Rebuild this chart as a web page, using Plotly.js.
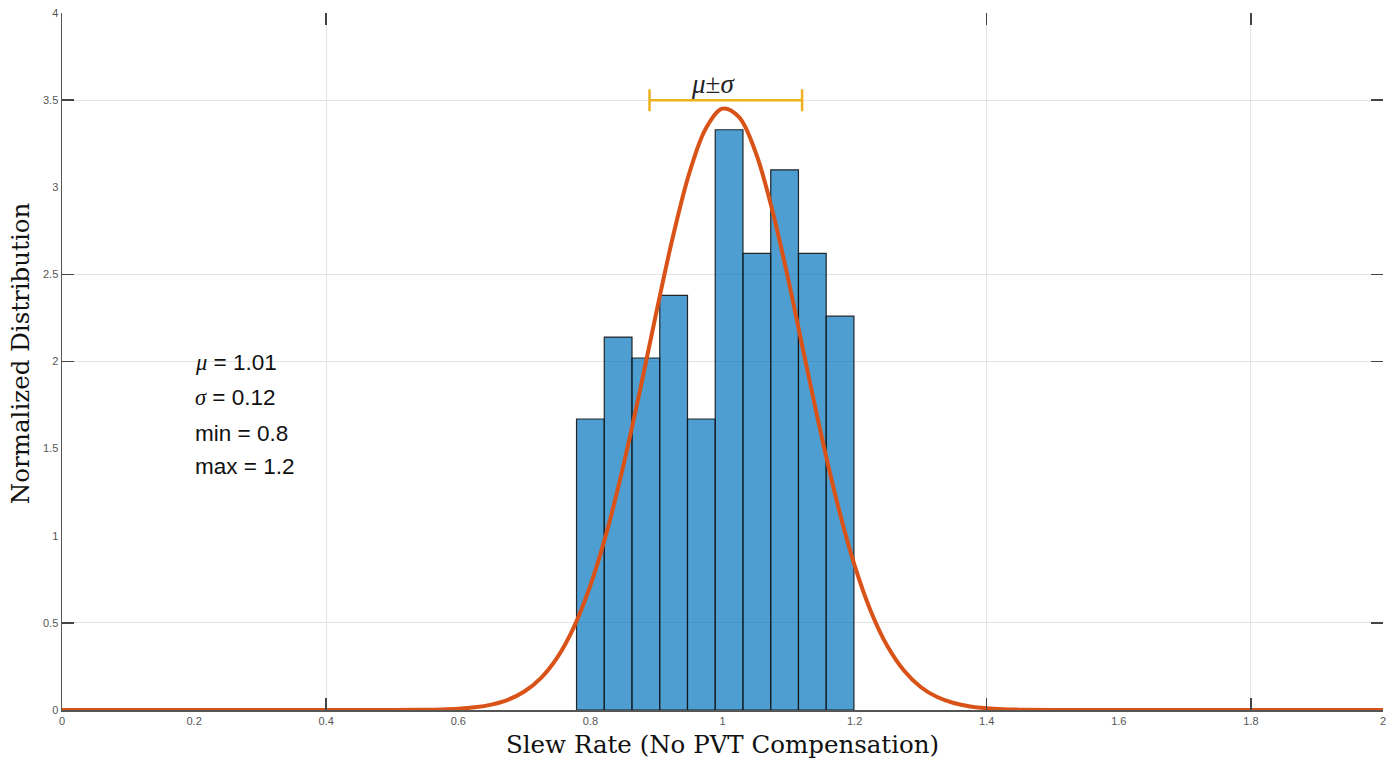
<!DOCTYPE html>
<html>
<head>
<meta charset="utf-8">
<script src="https://cdn.plot.ly/plotly-3.0.1.min.js"></script>
<style>html,body{margin:0;padding:0;background:#fff;}#chart{width:1397px;height:759px;}</style>
</head>
<body>
<div id="chart"></div>
<script>
// Histogram (normalized distribution)
const binStart = 0.779;
const binWidth = 0.042;
const binHeights = [1.67, 2.14, 2.02, 2.38, 1.67, 3.33, 2.62, 3.10, 2.62, 2.26];

// Fitted normal curve
const curveX = [0, 0.5, 0.55, 0.575, 0.6, 0.625, 0.65, 0.675, 0.7, 0.725, 0.75, 0.775, 0.8, 0.825, 0.85, 0.875, 0.9, 0.925, 0.95, 0.975, 1.0, 1.025, 1.05, 1.075, 1.1, 1.125, 1.15, 1.175, 1.2, 1.225, 1.25, 1.275, 1.3, 1.325, 1.35, 1.375, 1.4, 1.425, 1.45, 1.5, 2];
const curveY = [0, 0.0003, 0.0015, 0.0034, 0.0074, 0.0154, 0.031, 0.0583, 0.106, 0.183, 0.302, 0.476, 0.715, 1.025, 1.404, 1.833, 2.285, 2.717, 3.084, 3.339, 3.451, 3.403, 3.202, 2.874, 2.463, 2.013, 1.571, 1.169, 0.830, 0.563, 0.364, 0.225, 0.132, 0.0743, 0.040, 0.0204, 0.010, 0.0046, 0.002, 0.0003, 0];

// mu +/- sigma
const mu = 1.005;
const sigma = 0.1155;
const sigmaBarY = 3.5;

// Stats text
const statsLines = [
  '<span style="font-family:Liberation Serif;font-style:italic">μ</span> = 1.01',
  '<span style="font-family:Liberation Serif;font-style:italic">σ</span> = 0.12',
  'min = 0.8',
  'max = 1.2'
];
const statsY = [1.997, 1.791, 1.584, 1.395];

// Tick labels
const xTickVals = [0, 0.2, 0.4, 0.6, 0.8, 1, 1.2, 1.4, 1.6, 1.8, 2];
const xTickText = ['0', '0.2', '0.4', '0.6', '0.8', '1', '1.2', '1.4', '1.6', '1.8', '2'];
const yTickVals = [0, 0.5, 1, 1.5, 2, 2.5, 3, 3.5, 4];
const yTickText = ['0', '0.5', '1', '1.5', '2', '2.5', '3', '3.5', '4'];
// Only these positions carry tick marks and grid lines in the picture
const xGridVals = [0.4, 1.4, 1.8];
const yGridVals = [0.5, 2, 2.5, 3.5];

const binCenters = binHeights.map((h, i) => binStart + binWidth * (i + 0.5));

const traces = [
  {
    type: 'bar', x: binCenters, y: binHeights, width: binWidth,
    marker: {color: 'rgba(0,114,189,0.69)', line: {color: 'rgba(20,20,20,0.9)', width: 1.2}},
    hoverinfo: 'x+y', showlegend: false
  },
  {
    type: 'scatter', mode: 'lines', x: curveX, y: curveY,
    line: {color: '#D95319', width: 4, shape: 'spline', smoothing: 1},
    showlegend: false
  },
  {
    type: 'scatter', mode: 'markers', x: [mu], y: [sigmaBarY],
    marker: {size: 1, color: 'rgba(0,0,0,0)'},
    error_x: {type: 'data', array: [sigma], color: '#EDB120', thickness: 2.5, width: 11},
    showlegend: false
  },
  {
    type: 'scatter', mode: 'markers', x: [0], y: [0], xaxis: 'x2', yaxis: 'y2',
    marker: {size: 1, color: 'rgba(0,0,0,0)'}, hoverinfo: 'skip', showlegend: false
  }
];

const tickFont = {family: 'Liberation Sans, Arial, sans-serif', size: 11, color: '#555'};

const layout = {
  width: 1397, height: 759,
  margin: {l: 62, r: 14, t: 13, b: 49},
  paper_bgcolor: '#fff', plot_bgcolor: '#fff',
  bargap: 0,
  xaxis: {
    range: [0, 2], tickvals: xGridVals, showticklabels: false,
    showgrid: true, gridcolor: '#e3e3e3', gridwidth: 1,
    ticks: 'inside', ticklen: 12, tickwidth: 1.5, tickcolor: '#444', mirror: 'ticks',
    showline: false, zeroline: false, fixedrange: true
  },
  yaxis: {
    range: [0, 4], tickvals: yGridVals, showticklabels: false,
    showgrid: true, gridcolor: '#e3e3e3', gridwidth: 1,
    ticks: 'inside', ticklen: 12, tickwidth: 1.5, tickcolor: '#444', mirror: 'ticks',
    showline: false, zeroline: false, fixedrange: true
  },
  xaxis2: {
    overlaying: 'x', side: 'bottom', range: [0, 2],
    tickvals: xTickVals, ticktext: xTickText, tickfont: tickFont,
    showgrid: false, zeroline: false, showline: true, linecolor: '#555', linewidth: 1.5,
    ticks: '', fixedrange: true
  },
  yaxis2: {
    overlaying: 'y', side: 'left', range: [0, 4],
    tickvals: yTickVals, ticktext: yTickText, tickfont: tickFont,
    showgrid: false, zeroline: false, showline: true, linecolor: '#555', linewidth: 1.5,
    ticks: '', fixedrange: true
  },
  annotations: [
    {
      text: '<i>μ</i>±<i>σ</i>', x: 0.986, y: 3.59, xref: 'x', yref: 'y',
      showarrow: false, xanchor: 'center', yanchor: 'middle',
      font: {family: 'Liberation Serif, serif', size: 27, color: '#222'}
    },
    {
      text: 'Slew Rate (No PVT Compensation)', x: 0.5, y: -0.049, xref: 'paper', yref: 'paper',
      showarrow: false, xanchor: 'center', yanchor: 'middle',
      font: {family: 'DejaVu Serif, serif', size: 24.5, color: '#111'}
    },
    {
      text: 'Normalized Distribution', x: -0.0318, y: 0.512, xref: 'paper', yref: 'paper',
      showarrow: false, xanchor: 'center', yanchor: 'middle', textangle: -90,
      font: {family: 'DejaVu Serif, serif', size: 24.5, color: '#111'}
    }
  ].concat(statsLines.map((t, i) => ({
    text: t, x: 0.198, y: statsY[i], xref: 'x', yref: 'y',
    showarrow: false, xanchor: 'left', yanchor: 'middle',
    font: {family: 'Liberation Sans, Arial, sans-serif', size: 22.5, color: '#111'}
  })))
};

Plotly.newPlot('chart', traces, layout, {displayModeBar: false, staticPlot: true});
</script>
</body>
</html>
